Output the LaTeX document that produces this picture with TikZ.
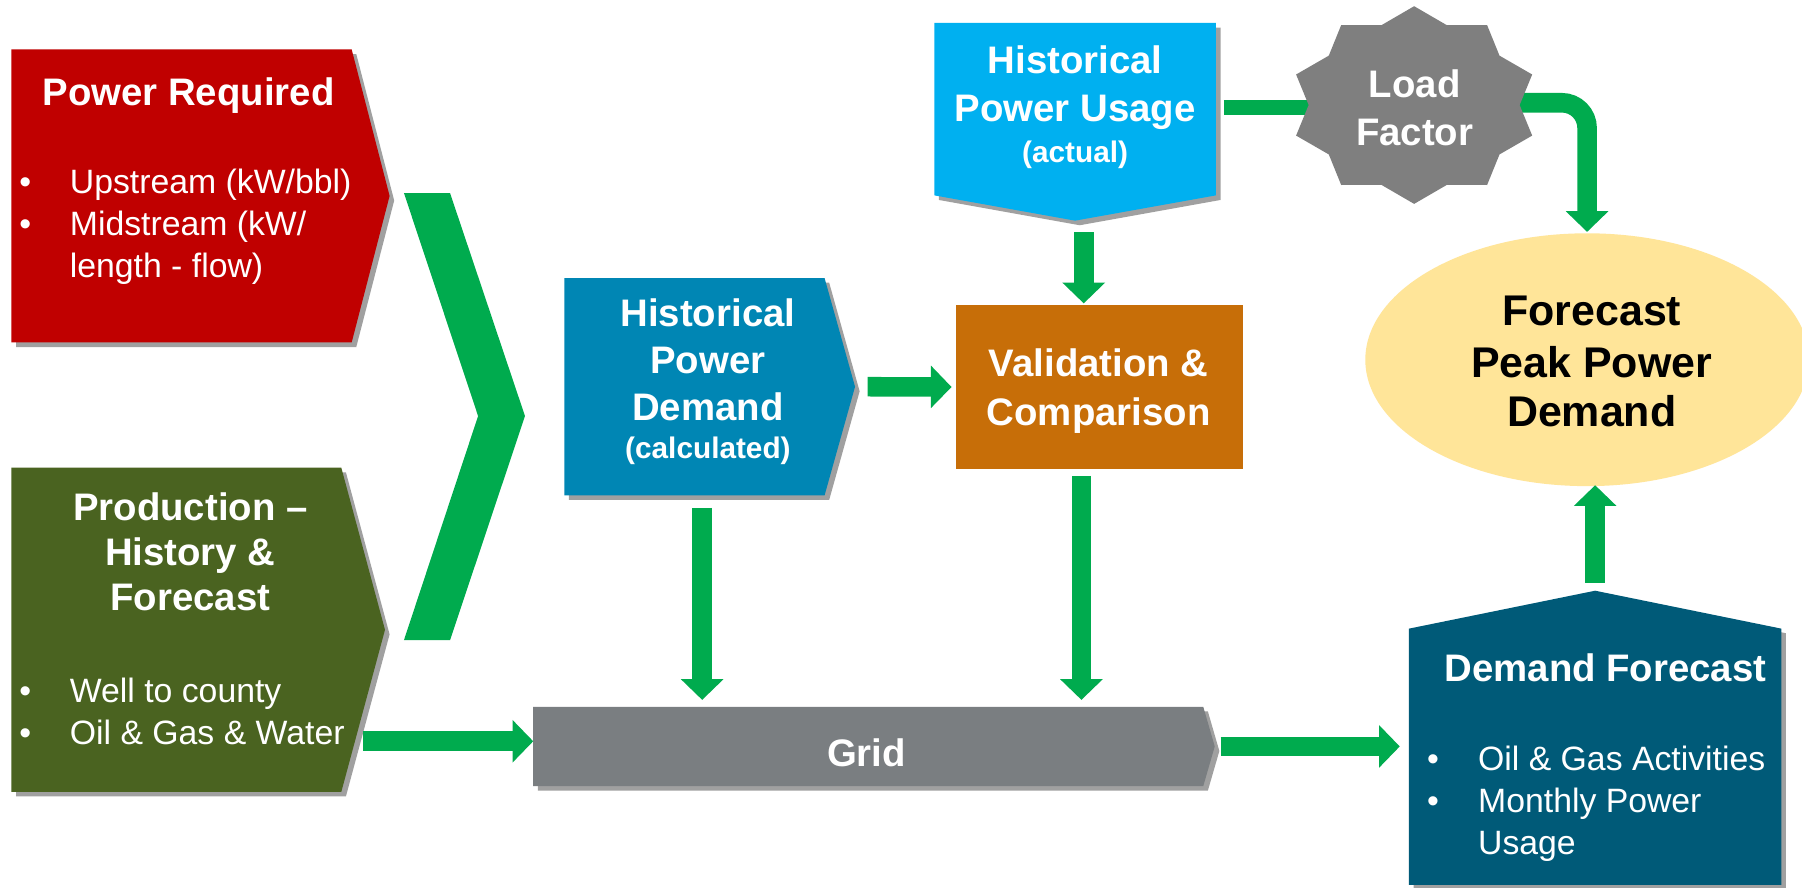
\documentclass[tikz,border=0pt]{standalone}
\usepackage{fontspec}
\setmainfont{Liberation Sans}
\usetikzlibrary{arrows.meta,shapes.geometric,calc}
\definecolor{redc}{RGB}{192,0,0}
\definecolor{olivec}{RGB}{74,99,32}
\definecolor{hpdc}{RGB}{0,134,180}
\definecolor{hpuc}{RGB}{0,176,240}
\definecolor{valc}{RGB}{199,110,8}
\definecolor{gridc}{RGB}{122,126,129}
\definecolor{starc}{RGB}{127,127,127}
\definecolor{demc}{RGB}{0,90,120}
\definecolor{ellc}{RGB}{255,229,153}
\definecolor{arrc}{RGB}{0,171,78}
\definecolor{shadc}{RGB}{160,160,160}
\newcommand\hdfont{\bfseries\fontsize{33.5}{40}\selectfont}
\newcommand\subfont{\bfseries\fontsize{26}{32}\selectfont}
\newcommand\btfont{\fontsize{29.5}{36}\selectfont}
\newcommand\elfont{\bfseries\fontsize{37.5}{44}\selectfont}
% right-pointing pentagon: node, depth, colour
\newcommand\rpent[3]{%
  \fill[shadc,transform canvas={shift={(4bp,-4bp)}}] (#1.north west) -- ([xshift=-#2bp]#1.north east) -- (#1.east) -- ([xshift=-#2bp]#1.south east) -- (#1.south west) -- cycle;
  \fill[#3] (#1.north west) -- ([xshift=-#2bp]#1.north east) -- (#1.east) -- ([xshift=-#2bp]#1.south east) -- (#1.south west) -- cycle;}
% down-pointing pentagon
\newcommand\dpent[3]{%
  \fill[shadc,transform canvas={shift={(4bp,-4bp)}}] (#1.north west) -- (#1.north east) -- ([yshift=#2bp]#1.south east) -- (#1.south) -- ([yshift=#2bp]#1.south west) -- cycle;
  \fill[#3] (#1.north west) -- (#1.north east) -- ([yshift=#2bp]#1.south east) -- (#1.south) -- ([yshift=#2bp]#1.south west) -- cycle;}
% up-pointing pentagon
\newcommand\upent[3]{%
  \fill[shadc,transform canvas={shift={(4bp,-4bp)}}] (#1.south west) -- ([yshift=-#2bp]#1.north west) -- (#1.north) -- ([yshift=-#2bp]#1.north east) -- (#1.south east) -- cycle;
  \fill[#3] (#1.south west) -- ([yshift=-#2bp]#1.north west) -- (#1.north) -- ([yshift=-#2bp]#1.north east) -- (#1.south east) -- cycle;}
\begin{document}
\begin{tikzpicture}[x=1bp,y=-1bp,
  area/.style 2 args={minimum width=#1bp,minimum height=#2bp,inner sep=0pt,outer sep=0pt},
  hw/.style={inner sep=0pt,anchor=base,text=white,font=\hdfont},
  hs/.style={inner sep=0pt,anchor=base,text=white,font=\subfont},
  hb/.style={inner sep=0pt,anchor=base,text=black,font=\elfont},
  bl/.style={inner sep=0pt,anchor=base west,text=white,font=\btfont},
  bu/.style={inner sep=0pt,anchor=base,text=white,font=\btfont},
  arr/.style={draw=arrc,line width=17bp,-{Triangle[width=36bp,length=18bp]}},
  conn/.style={draw=arrc,line width=13bp}]
\fill[white] (0,0) rectangle (1568,772);
\useasboundingbox (0,0) rectangle (1568,772);

% shape areas
\node[area={329}{255}] (req) at (174.5,170.5) {};
\node[area={325}{282}] (prod) at (172.5,548) {};
\node[area={253}{189}] (hpd) at (617.5,336.5) {};
\node[area={245}{172}] (hpu) at (935.5,106) {};
\node[area={593}{69}] (grid) at (760.5,649.5) {};
\node[area={324}{256}] (dem) at (1388,642) {};
\node[area={250}{142.5}, fill=valc] (val) at (957,336.75) {};
\node[area={216}{172}] (lf) at (1230.5,91.4) {};
\node[ellipse, fill=ellc, minimum width=386bp, minimum height=220bp, inner sep=0pt] (fc) at (1381,313) {};

\rpent{req}{33}{redc}
\rpent{prod}{38}{olivec}
\rpent{hpd}{26.5}{hpdc}
\dpent{hpu}{22}{hpuc}
\rpent{grid}{10}{gridc}
\upent{dem}{33}{demc}

% big chevron
\fill[arrc] (351.5,168) -- (391.6,168) -- (456.8,362) -- (391.6,557) -- (351.5,557) -- (416,362) -- cycle;

% connectors
\coordinate (a1) at (315.5,645);
\draw[arr] (a1) -- (a1 -| grid.west);
\draw[arr] ([xshift=11bp]hpd.east) -- ([xshift=-4bp]val.west);
\coordinate (a3) at (611,442);
\draw[arr] (a3) -- ([yshift=6bp]a3 |- grid.north);
\coordinate (a4) at (941,414);
\draw[arr] (a4) -- ([yshift=6bp]a4 |- grid.north);
\coordinate (a5) at (943,202);
\draw[arr] (a5) -- ([yshift=1.5bp]a5 |- val.north);
\draw[arr] ([xshift=5bp]grid.east) -- ([xshift=-8bp]grid.east -| dem.west);
\draw[arr] ([yshift=7bp]dem.north) -- ([yshift=1bp]dem.north |- fc.south);
\coordinate (a8) at (1065,93.5);
\draw[conn] (a8) -- (a8 -| lf.center);
\draw[arr, rounded corners=22bp] ([yshift=2bp]lf.center) -| ([yshift=1bp]fc.north);

% star
\fill[starc] plot[variable=\k, samples at={0,...,19}] ({1230.5+(1-0.15*mod(\k,2))*108*cos(90+18*\k)}, {91.4-(1-0.15*mod(\k,2))*86*sin(90+18*\k)}) -- cycle;

% texts
\node[hw] (treq) at (164,92) {Power Required};
\node[bu] (rb1) at (22,168.5) {•};
\node[bl] (rl1) at (60.6,168.5) {Upstream (kW/bbl)};
\node[bu] (rb2) at (22,205) {•};
\node[bl] (rl2) at (60.6,205) {Midstream (kW/};
\node[bl] (rl3) at (60.6,241.5) {length - flow)};

\node[hw] (tp1) at (165.6,453) {Production –};
\node[hw] (tp2) at (165.6,492) {History \&};
\node[hw] (tp3) at (165.6,531.5) {Forecast};
\node[bu] (pb1) at (22,611) {•};
\node[bl] (pl1) at (60.6,611) {Well to county};
\node[bu] (pb2) at (22,647.6) {•};
\node[bl] (pl2) at (60.6,647.6) {Oil \& Gas \& Water};

\node[hw] (th1) at (616,284) {Historical};
\node[hw] (th2) at (616,325) {Power};
\node[hw] (th3) at (616,366) {Demand};
\node[hs] (th4) at (616,399.3) {(calculated)};

\node[hw] (tu1) at (935.5,64) {Historical};
\node[hw] (tu2) at (935.5,106) {Power Usage};
\node[hs] (tu3) at (935.5,141.3) {(actual)};

\node[hw] (tl1) at (1231,84.5) {Load};
\node[hw] (tl2) at (1231,126.5) {Factor};

\node[hw] (tv1) at (956,328) {Validation \&};
\node[hw] (tv2) at (956,370.5) {Comparison};

\node[hw] (tg) at (754,667) {Grid};

\node[hw] (td) at (1397,593) {Demand Forecast};
\node[bu] (db1) at (1247,670.6) {•};
\node[bl] (dl1) at (1286,670.6) {Oil \& Gas Activities};
\node[bu] (db2) at (1247,706.6) {•};
\node[bl] (dl2) at (1286,706.6) {Monthly Power};
\node[bl] (dl3) at (1286,743.6) {Usage};

\node[hb] (tf1) at (1385,283.4) {Forecast};
\node[hb] (tf2) at (1385,328.4) {Peak Power};
\node[hb] (tf3) at (1385,371.4) {Demand};
\end{tikzpicture}
\end{document}
